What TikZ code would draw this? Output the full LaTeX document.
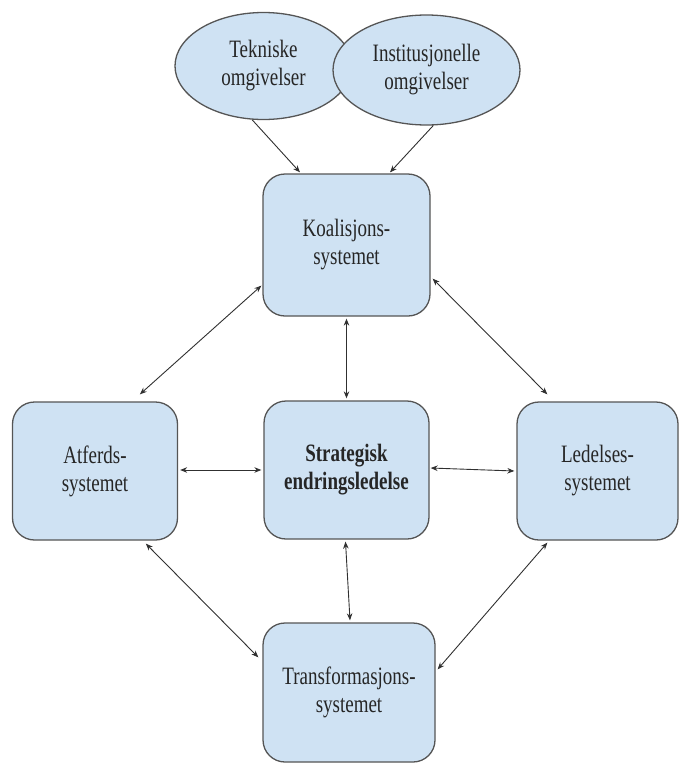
\documentclass[tikz,border=0pt]{standalone}
\usepackage{fontspec}
\setmainfont{Liberation Serif}[FakeStretch=0.76]
\usetikzlibrary{shapes.geometric,arrows.meta,calc}
\definecolor{boxfill}{HTML}{CFE2F3}
\definecolor{boxline}{HTML}{555555}
\definecolor{txt}{HTML}{262626}
\definecolor{linkcol}{HTML}{303030}
\begin{document}
\begin{tikzpicture}[x=1pt,y=-1pt,
  labelfont/.style={font=\fontsize{25}{28}\selectfont},
  sysbox/.style={draw=boxline, line width=1.3pt, fill=boxfill, rounded corners=22pt,
    inner sep=0pt, align=center, text=txt, labelfont},
  envell/.style={ellipse, draw=boxline, line width=1.3pt, fill=boxfill,
    inner sep=0pt, align=center, text=txt, labelfont},
  link/.style={draw=linkcol, line width=0.9pt, {Stealth[length=7pt,width=5.5pt]}-{Stealth[length=7pt,width=5.5pt]}},
  feed/.style={draw=linkcol, line width=0.9pt, -{Stealth[length=7pt,width=5.5pt]}}]
\useasboundingbox (0,0) rectangle (679,763);

% environments
\node[envell, minimum width=177pt, minimum height=107pt] (tek) at (263.5,66) {Tekniske\\omgivelser};
\node[envell, minimum width=187pt, minimum height=110pt] (inst) at (426.5,70) {Institusjonelle\\omgivelser};

% subsystems
\node[sysbox, minimum width=167pt, minimum height=142pt] (koal) at (346.5,245) {Koalisjons-\\systemet};
\node[sysbox, minimum width=165pt, minimum height=138pt] (atf) at (95,471) {Atferds-\\systemet};
\node[sysbox, minimum width=165pt, minimum height=138pt] (strat) at (346.5,470) {\textbf{Strategisk}\\\textbf{endringsledelse}};
\node[sysbox, minimum width=161pt, minimum height=138pt] (led) at (597.5,471) {Ledelses-\\systemet};
\node[sysbox, minimum width=172pt, minimum height=139pt] (trans) at (349,692.5) {Transformasjons-\\systemet};

% influences from the environments
\draw[feed] (tek.258) -- ($(koal.north)+(-46.5,-1)$);
\draw[feed] (inst.277) -- ($(koal.north)+(43.5,-1)$);

% mutual relations
\draw[link] ($(koal.south west)+(-1,-31)$) -- ($(atf.north west)+(128,-7)$);
\draw[link] ($(koal.south east)+(2,-38)$) -- ($(led.north west)+(31,-7)$);
\draw[link] ($(koal.south)+(0,2)$) -- ($(strat.north)+(0,-2)$);
\draw[link] ($(atf.east)+(2,-1)$) -- ($(strat.west)+(-2,0)$);
\draw[link] ($(strat.east)+(1,-2)$) -- ($(led.west)+(-2,0)$);
\draw[link] ($(strat.south)+(-1,2)$) -- ($(trans.north)+(1,-2)$);
\draw[link] ($(atf.south west)+(134,3)$) -- ($(trans.north west)+(-4,35)$);
\draw[link] ($(led.south west)+(31,2)$) -- ($(trans.north east)+(2,47)$);
\end{tikzpicture}
\end{document}
